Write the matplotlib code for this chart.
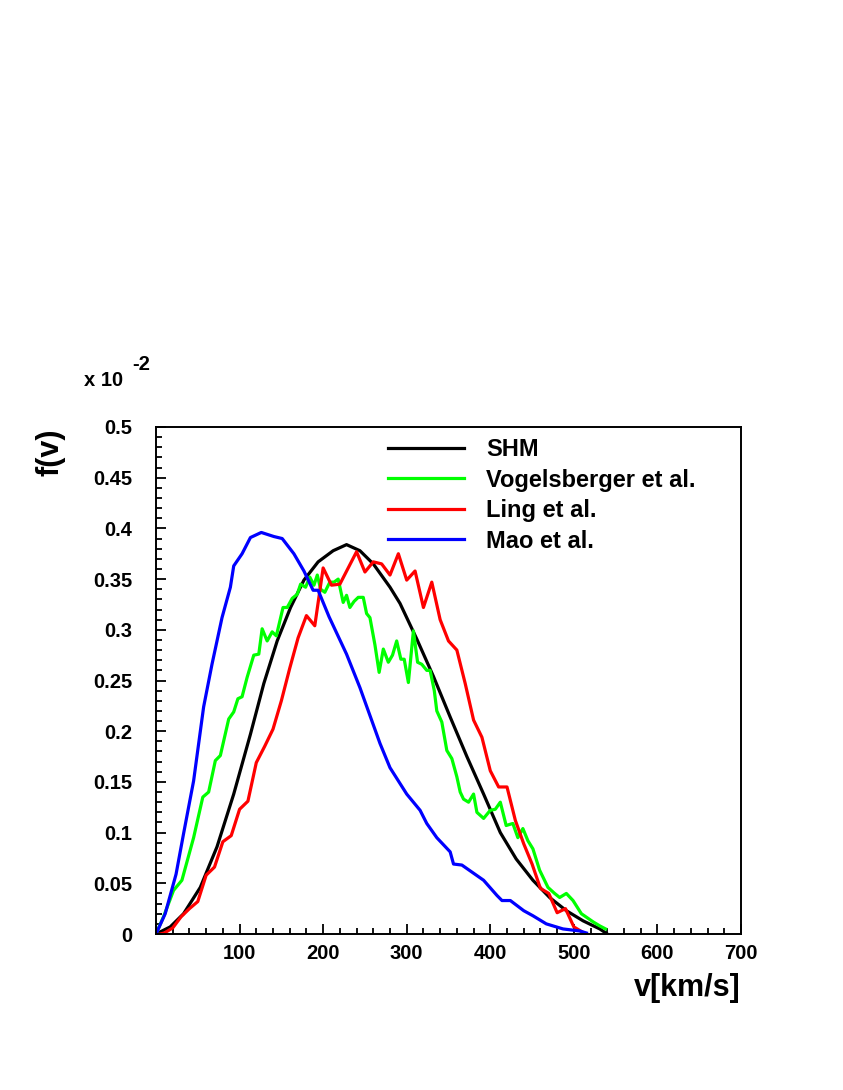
import numpy as np
import matplotlib
matplotlib.use('Agg')
import matplotlib.pyplot as plt

plt.rcParams['font.family'] = ['Liberation Sans', 'DejaVu Sans']
plt.rcParams['font.weight'] = 'bold'

# ------------------------
# Datos (f(v) en unidades de 10^-2)
# ------------------------
v_shm = [0, 17, 33, 53, 73, 93, 113, 129, 145, 161, 177, 194, 212, 228, 244, 260, 280, 292,
         312, 332, 352, 372, 392, 412, 431, 451, 471, 491, 511, 531, 540]
f_shm = [0, 0.007, 0.020, 0.046, 0.086, 0.138, 0.197, 0.247, 0.289, 0.322, 0.349, 0.367, 0.378,
         0.384, 0.378, 0.365, 0.342, 0.326, 0.291, 0.254, 0.214, 0.175, 0.138, 0.100,
         0.074, 0.053, 0.036, 0.023, 0.013, 0.005, 0.0]

v_vog = [0, 9, 21, 31, 45, 56, 63, 71, 77, 87, 93, 98, 103, 109, 117, 123, 127, 133, 139, 144,
         152, 157, 163, 169, 173, 179, 184, 189, 193, 197, 202, 208, 213, 218, 224, 228, 232, 237,
         242, 248, 252, 256, 262, 267, 272, 278, 283, 288, 293, 297, 302, 308, 313, 318, 324, 328,
         333, 336, 342, 348, 354, 360, 364, 368, 374, 380, 384, 392, 400, 406, 412, 419, 427, 433,
         439, 445, 451, 459, 469, 477, 483, 491, 499, 509, 516, 523, 531, 538]
f_vog = [0, 0.017, 0.043, 0.053, 0.095, 0.135, 0.140, 0.171, 0.176, 0.212, 0.219, 0.232, 0.234,
         0.253, 0.275, 0.276, 0.301, 0.289, 0.298, 0.294, 0.322, 0.322, 0.331, 0.335, 0.345, 0.342,
         0.352, 0.344, 0.354, 0.340, 0.337, 0.347, 0.347, 0.350, 0.327, 0.334, 0.322, 0.328, 0.332,
         0.332, 0.316, 0.312, 0.285, 0.258, 0.281, 0.268, 0.275, 0.289, 0.271, 0.271, 0.248, 0.299,
         0.268, 0.266, 0.260, 0.260, 0.240, 0.220, 0.209, 0.181, 0.173, 0.155, 0.140, 0.133, 0.130,
         0.138, 0.120, 0.114, 0.122, 0.123, 0.130, 0.107, 0.109, 0.095, 0.104, 0.092, 0.084, 0.063,
         0.046, 0.040, 0.036, 0.040, 0.033, 0.020, 0.016, 0.012, 0.008, 0.005]

v_ling = [5, 10, 20, 30, 40, 50, 60, 70, 80, 90, 100, 110, 120, 130, 140, 150, 160, 170, 180,
          190, 200, 210, 220, 230, 240, 250, 260, 270, 280, 290, 300, 310, 320, 330, 340, 350,
          360, 370, 380, 390, 400, 410, 420, 430, 440, 450, 460, 470, 480, 490, 500, 510]
f_ling = [0, 0.001, 0.006, 0.017, 0.025, 0.032, 0.058, 0.066, 0.091, 0.097, 0.123, 0.131, 0.169,
          0.185, 0.202, 0.230, 0.262, 0.292, 0.314, 0.304, 0.361, 0.344, 0.345, 0.361, 0.377, 0.357,
          0.367, 0.365, 0.354, 0.375, 0.349, 0.358, 0.322, 0.347, 0.310, 0.289, 0.280, 0.247, 0.211,
          0.194, 0.161, 0.145, 0.145, 0.112, 0.089, 0.069, 0.045, 0.040, 0.021, 0.025, 0.007, 0.002]

v_mao = [0, 11, 24, 33, 45, 57, 67, 79, 89, 93, 103, 113, 126, 141, 151, 165, 177, 188, 194,
         207, 228, 244, 268, 280, 300, 316, 324, 336, 352, 356, 366, 392, 408, 414, 424, 440,
         451, 467, 487, 507, 515]
f_mao = [0, 0.020, 0.059, 0.099, 0.151, 0.224, 0.266, 0.312, 0.342, 0.363, 0.375, 0.391, 0.396,
         0.392, 0.390, 0.375, 0.358, 0.339, 0.339, 0.313, 0.276, 0.243, 0.188, 0.164, 0.138,
         0.122, 0.109, 0.095, 0.081, 0.069, 0.068, 0.053, 0.038, 0.033, 0.033, 0.023, 0.018,
         0.010, 0.005, 0.003, 0.001]

labels = ['SHM', 'Vogelsberger et al.', 'Ling et al.', 'Mao et al.']
colors = ['black', '#00ff00', '#ff0000', '#0000ff']

xticks = [0, 100, 200, 300, 400, 500, 600, 700]
xticklabels = ['', '100', '200', '300', '400', '500', '600', '700']
yticks = [0, 0.05, 0.1, 0.15, 0.2, 0.25, 0.3, 0.35, 0.4, 0.45, 0.5]
yticklabels = ['0', '0.05', '0.1', '0.15', '0.2', '0.25', '0.3', '0.35', '0.4', '0.45', '0.5']

# ------------------------
# Figura
# ------------------------
W, H = 843, 1090
fig = plt.figure(figsize=(W/100, H/100), dpi=100)
ax = fig.add_axes([156/W, 1-934/H, (741-156)/W, (934-427)/H])

series = [(v_shm, f_shm), (v_vog, f_vog), (v_ling, f_ling), (v_mao, f_mao)]
for (vv, ff), c, lab in zip(series, colors, labels):
    ax.plot(vv, ff, color=c, lw=2.3, label=lab)

ax.set_xlim(0, 700)
ax.set_ylim(0, 0.5)
ax.set_xticks(xticks)
ax.set_xticklabels(xticklabels)
ax.set_yticks(yticks)
ax.set_yticklabels(yticklabels)
ax.set_xticks(np.arange(0, 701, 20), minor=True)
ax.set_yticks(np.arange(0, 0.501, 0.01), minor=True)
ax.tick_params(which='both', direction='in', top=False, right=False, width=1.3,
               labelsize=14.5)
ax.tick_params(which='major', length=7.5)
ax.tick_params(which='minor', length=4)
ax.tick_params(axis='y', pad=17)
ax.tick_params(axis='x', pad=7)
for s in ax.spines.values():
    s.set_linewidth(1.4)

ax.legend(loc='upper left', bbox_to_anchor=(388/W, 1-438/H), bbox_transform=fig.transFigure,
          frameon=False, fontsize=17, handlelength=3.2, handletextpad=0.95,
          labelspacing=0.32, borderpad=0, borderaxespad=0)

# Etiquetas de ejes
fig.text(741/W, 1-988/H, 'v[km/s]', ha='right', va='center', fontsize=22, fontweight='bold')
fig.text(50/W, 1-428/H, 'f(v)', ha='center', va='top', rotation=90, fontsize=22,
         fontweight='bold')
fig.text(84/W, 1-380/H, 'x 10', ha='left', va='center', fontsize=14.5, fontweight='bold')
fig.text(132/W, 1-365/H, '-2', ha='left', va='center', fontsize=14.5, fontweight='bold')

fig.savefig('out.png', dpi=100)
